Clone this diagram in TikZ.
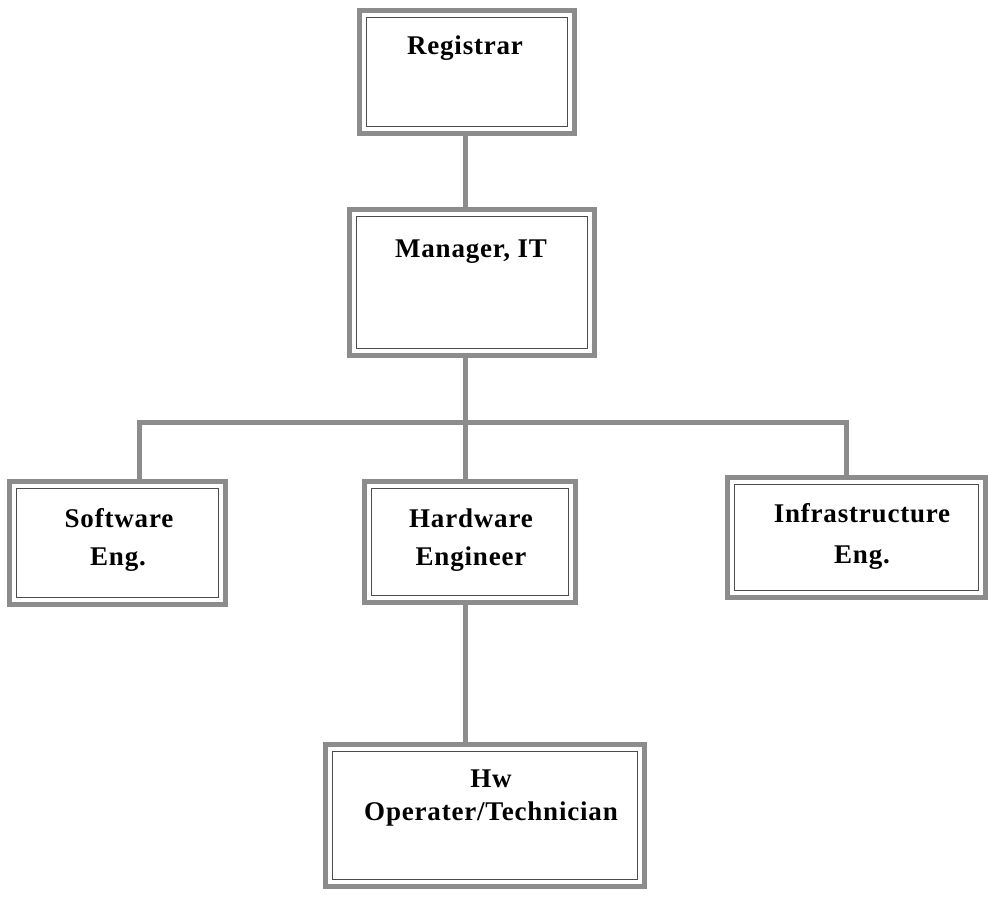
\documentclass[tikz,border=0pt]{standalone}
\usepackage{fontspec}
\setmainfont{Liberation Serif}[LetterSpace=3]
\usetikzlibrary{calc}
\definecolor{frame}{gray}{0.55}
\definecolor{innerline}{gray}{0.3}
\tikzset{
  box/.style={draw=frame, line width=5pt, rectangle, inner sep=0pt, outer sep=0pt, fill=white},
  conn/.style={draw=frame, line width=5pt},
  innerframe/.style={draw=innerline, line width=1.1pt},
  lbl/.style={anchor=base, inner sep=0pt, font=\fontsize{27}{38}\selectfont\bfseries}
}
\begin{document}
\begin{tikzpicture}[x=1pt,y=-1pt]
\useasboundingbox (0,0) rectangle (988,901);
% boxes
\node[box, minimum width=215pt, minimum height=123pt] (reg) at (467,72) {};
\node[box, minimum width=245pt, minimum height=146pt] (man) at (472,282.5) {};
\node[box, minimum width=216pt, minimum height=123pt] (sw) at (117.5,543) {};
\node[box, minimum width=211pt, minimum height=121pt] (hw) at (470,542) {};
\node[box, minimum width=258pt, minimum height=120pt] (inf) at (856.5,537.5) {};
\node[box, minimum width=319pt, minimum height=142pt] (op) at (485,815.5) {};
% inner frames
\foreach \n in {reg,man,sw,hw,inf,op}{
  \draw[innerframe] ($(\n.north west)+(7,7)$) rectangle ($(\n.south east)+(-7,-7)$);
}
% connectors
\coordinate (bus) at (465,422);
\coordinate (bl) at (139,422);
\coordinate (br) at (846,422);
\draw[conn] (reg.south -| bus) -- (man.north -| bus);
\draw[conn] (man.south -| bus) -- (bus);
\draw[conn, line join=miter] (sw.north -| bl) -- (bl) -- (br) -- (inf.north -| br);
\draw[conn] (bus) -- (hw.north -| bus);
\draw[conn] (hw.south -| bus) -- (op.north -| bus);
% labels
\node[lbl] (treg) at (465,55) {Registrar};
\node[lbl] (tman) at (471,258) {Manager, IT};
\node[lbl] (tsw1) at (119,527) {Software};
\node[lbl] (tsw2) at (118,565) {Eng.};
\node[lbl] (thw1) at (471,527) {Hardware};
\node[lbl] (thw2) at (471,565) {Engineer};
\node[lbl] (tinf1) at (862,522) {Infrastructure};
\node[lbl] (tinf2) at (862,563) {Eng.};
\node[lbl] (top1) at (491,787) {Hw};
\node[lbl] (top2) at (491,820) {Operater/Technician};
\end{tikzpicture}
\end{document}
